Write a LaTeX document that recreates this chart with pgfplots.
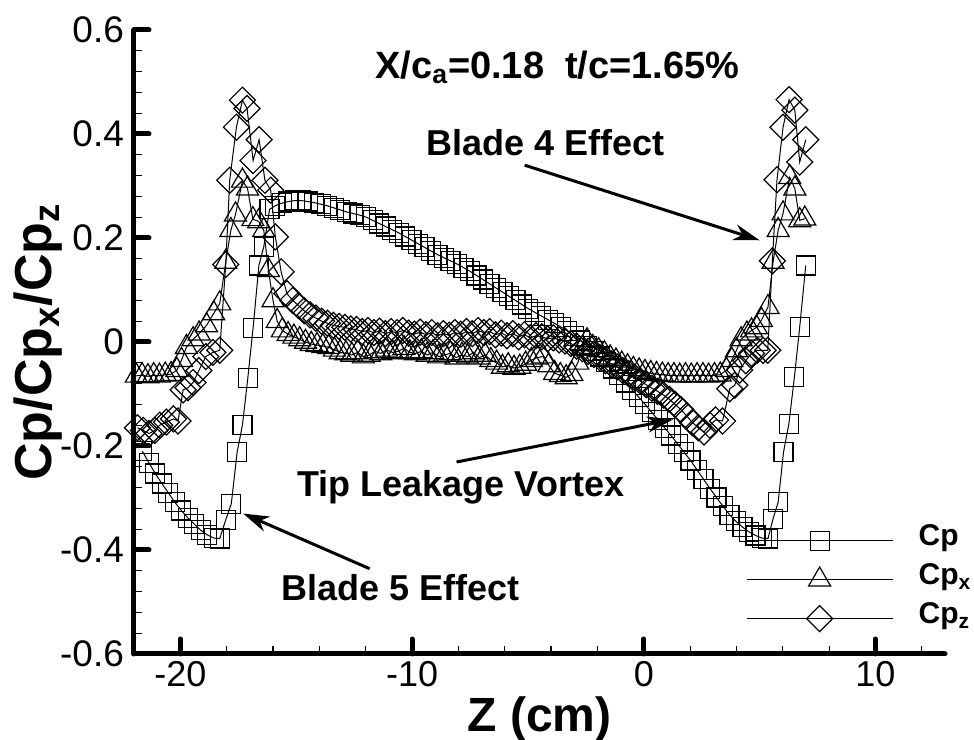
\documentclass[border=0pt]{standalone}
\usepackage{fontspec}
\setmainfont{Liberation Sans}
\usepackage{pgfplots}
\pgfplotsset{compat=1.18}
\usepackage{pgfplotstable}
\usetikzlibrary{arrows.meta}

\pgfplotstableread{
x y
-21.64 -0.210
-21.36 -0.232
-21.08 -0.253
-20.80 -0.272
-20.52 -0.290
-20.24 -0.308
-19.96 -0.324
-19.68 -0.338
-19.40 -0.350
-19.12 -0.362
-18.84 -0.371
-18.56 -0.377
-18.30 -0.378
-18.04 -0.342
-17.80 -0.311
-17.55 -0.212
-17.32 -0.160
-17.09 -0.070
-16.86 0.027
-16.61 0.147
-16.40 0.183
-16.15 0.255
-15.90 0.262
-15.62 0.267
-15.34 0.270
-15.06 0.272
-14.78 0.272
-14.50 0.270
-14.22 0.268
-13.94 0.265
-13.66 0.262
-13.38 0.258
-13.10 0.254
-12.82 0.250
-12.54 0.247
-12.26 0.244
-11.98 0.240
-11.70 0.234
-11.42 0.228
-11.14 0.222
-10.86 0.216
-10.58 0.210
-10.30 0.203
-10.02 0.196
-9.74 0.189
-9.46 0.182
-9.18 0.175
-8.90 0.168
-8.62 0.162
-8.34 0.156
-8.06 0.150
-7.78 0.143
-7.50 0.136
-7.22 0.128
-6.94 0.120
-6.66 0.112
-6.38 0.104
-6.10 0.096
-5.82 0.088
-5.54 0.080
-5.26 0.072
-4.98 0.064
-4.70 0.057
-4.42 0.050
-4.14 0.043
-3.86 0.036
-3.58 0.029
-3.30 0.021
-3.02 0.012
-2.74 0.003
-2.46 -0.007
-2.18 -0.017
-1.90 -0.028
-1.62 -0.039
-1.34 -0.051
-1.06 -0.064
-0.78 -0.078
-0.50 -0.092
-0.22 -0.106
0.06 -0.120
0.34 -0.135
0.62 -0.150
0.90 -0.165
1.18 -0.180
1.46 -0.196
1.74 -0.212
2.02 -0.228
2.30 -0.246
2.58 -0.264
2.86 -0.282
3.14 -0.299
3.42 -0.316
3.70 -0.332
3.98 -0.345
4.26 -0.356
4.54 -0.365
4.82 -0.372
5.10 -0.377
5.36 -0.378
5.58 -0.340
5.80 -0.308
6.03 -0.212
6.26 -0.158
6.50 -0.068
6.73 0.029
6.99 0.147
}\cpdata

\pgfplotstableread{
x y
-21.90 -0.065
-21.65 -0.064
-21.40 -0.066
-21.15 -0.064
-20.90 -0.065
-20.65 -0.063
-20.40 -0.062
-20.15 -0.054
-19.95 -0.035
-19.74 -0.010
-19.45 0.005
-19.19 0.016
-18.87 0.032
-18.56 0.055
-18.30 0.074
-18.04 0.154
-17.82 0.215
-17.62 0.245
-17.32 0.310
-17.10 0.295
-16.87 0.236
-16.62 0.232
-16.40 0.215
-16.20 0.138
-16.00 0.080
-15.82 0.040
-15.60 0.022
-15.35 0.015
-15.10 0.010
-14.85 0.005
-14.60 0.000
-14.35 -0.004
-14.10 -0.006
-13.85 -0.008
-13.60 -0.010
-13.35 -0.015
-13.10 -0.020
-12.85 -0.022
-12.60 -0.025
-12.35 -0.020
-12.10 -0.028
-11.85 -0.025
-11.60 -0.018
-11.35 -0.022
-11.10 -0.015
-10.85 -0.020
-10.60 -0.018
-10.35 -0.012
-10.10 -0.020
-9.85 -0.022
-9.60 -0.018
-9.35 -0.025
-9.10 -0.020
-8.85 -0.028
-8.60 -0.025
-8.35 -0.022
-8.10 -0.030
-7.85 -0.025
-7.60 -0.028
-7.35 -0.020
-7.10 -0.030
-6.85 -0.025
-6.60 -0.035
-6.35 -0.040
-6.10 -0.048
-5.85 -0.045
-5.60 -0.050
-5.35 -0.048
-5.10 -0.042
-4.85 -0.035
-4.60 -0.030
-4.35 -0.028
-4.10 -0.045
-3.85 -0.060
-3.60 -0.064
-3.35 -0.068
-3.10 -0.062
-2.85 -0.040
-2.65 -0.012
-2.45 0.003
-2.20 -0.010
-1.95 -0.016
-1.70 -0.022
-1.45 -0.030
-1.20 -0.036
-0.95 -0.042
-0.70 -0.047
-0.45 -0.052
-0.20 -0.055
0.05 -0.058
0.30 -0.060
0.55 -0.062
0.80 -0.063
1.05 -0.064
1.30 -0.064
1.55 -0.065
1.80 -0.064
2.05 -0.065
2.30 -0.064
2.55 -0.064
2.80 -0.065
3.05 -0.064
3.30 -0.063
3.57 -0.054
3.80 -0.035
4.00 -0.016
4.20 0.005
4.45 0.016
4.65 0.022
4.86 0.028
5.08 0.042
5.36 0.067
5.58 0.154
5.80 0.215
6.01 0.247
6.30 0.317
6.52 0.295
6.73 0.234
6.95 0.237
}\cpxdata

\pgfplotstableread{
x y
-21.85 -0.165
-21.60 -0.170
-21.35 -0.176
-21.10 -0.170
-20.89 -0.160
-20.60 -0.154
-20.30 -0.148
-20.10 -0.152
-19.88 -0.092
-19.67 -0.088
-19.45 -0.078
-19.20 -0.055
-18.90 -0.028
-18.60 -0.020
-18.30 -0.016
-18.04 0.149
-17.87 0.311
-17.58 0.413
-17.32 0.465
-17.12 0.449
-16.86 0.349
-16.60 0.389
-16.35 0.311
-16.10 0.292
-15.90 0.202
-15.65 0.135
-15.40 0.093
-15.15 0.080
-14.90 0.070
-14.65 0.060
-14.40 0.052
-14.15 0.046
-13.90 0.040
-13.65 0.036
-13.40 0.032
-13.15 0.030
-12.90 0.028
-12.65 0.025
-12.40 0.024
-12.15 0.020
-11.90 0.022
-11.65 0.018
-11.40 0.021
-11.15 0.016
-10.90 0.020
-10.65 0.018
-10.40 0.022
-10.15 0.017
-9.90 0.015
-9.65 0.019
-9.40 0.014
-9.15 0.018
-8.90 0.012
-8.65 0.016
-8.40 0.013
-8.15 0.018
-7.90 0.015
-7.65 0.020
-7.40 0.016
-7.15 0.022
-6.90 0.018
-6.65 0.020
-6.40 0.014
-6.15 0.017
-5.90 0.012
-5.65 0.016
-5.40 0.010
-5.15 0.014
-4.90 0.008
-4.65 0.012
-4.40 0.010
-4.15 0.006
-3.90 0.008
-3.65 0.004
-3.40 0.002
-3.15 -0.003
-2.90 -0.008
-2.65 -0.013
-2.40 -0.018
-2.15 -0.024
-1.90 -0.030
-1.65 -0.036
-1.40 -0.042
-1.15 -0.048
-0.90 -0.055
-0.65 -0.061
-0.40 -0.068
-0.15 -0.075
0.10 -0.082
0.35 -0.089
0.60 -0.095
0.85 -0.102
1.10 -0.110
1.35 -0.120
1.60 -0.130
1.85 -0.142
2.10 -0.155
2.35 -0.165
2.60 -0.173
2.85 -0.160
3.10 -0.150
3.40 -0.152
3.71 -0.090
3.93 -0.083
4.14 -0.054
4.40 -0.036
4.65 -0.022
4.90 -0.016
5.15 -0.016
5.35 -0.016
5.55 0.156
5.75 0.312
6.01 0.413
6.27 0.466
6.52 0.446
6.73 0.346
6.99 0.389
}\cpzdata

\begin{document}
\begin{tikzpicture}
\begin{axis}[
  name=ax,
  scale only axis,
  width=405.5pt, height=312pt,
  xmin=-22, xmax=13, ymin=-0.6, ymax=0.6,
  axis x line*=bottom, axis y line*=left,
  axis line style={line width=2.5pt, line cap=round},
  xtick={-20,-10,0,10},
  minor xtick={-18,-16,-14,-12,-8,-6,-4,-2,2,4,6,8,12},
  ytick={-0.6,-0.4,-0.2,0,0.2,0.4,0.6},
  minor ytick={-0.56,-0.52,-0.48,-0.44,-0.36,-0.32,-0.28,-0.24,-0.16,-0.12,-0.08,-0.04,0.04,0.08,0.12,0.16,0.24,0.28,0.32,0.36,0.44,0.48,0.52,0.56},
  tick align=inside,
  major tick length=7.5pt, minor tick length=4pt,
  every major tick/.append style={line width=2.5pt, black, line cap=round},
  every minor tick/.append style={line width=0.6pt, black},
  /pgf/number format/assume math mode=true,
  xticklabel style={font=\fontsize{18}{20}\selectfont},
  yticklabel style={font=\fontsize{18.5}{20}\selectfont, /pgf/number format/fixed, xshift=-1.5pt},
  xlabel={\bfseries Z (cm)},
  ylabel={\bfseries Cp/Cp\textsubscript{x}/Cp\textsubscript{z}},
  every axis x label/.style={at={(axis description cs:0.5,-0.104)}, anchor=center, font=\fontsize{24}{27}\selectfont},
  every axis y label/.style={at={(axis description cs:-0.118,0.5)}, rotate=90, anchor=center, font=\fontsize{26}{30}\selectfont},
  clip mode=individual,
  legend style={draw=none, fill=none, inner xsep=0pt, inner ysep=0pt,
    at={(axis cs:4.40,-0.3813)}, anchor=north west, yshift=9.75pt,
    font=\fontsize{15}{17}\selectfont\bfseries, row sep=0pt, column sep=12.8pt,
    nodes={inner sep=0pt, text height=12.35pt, text depth=7.15pt}},
  legend cell align=left,
  legend image code/.code={\draw[mark repeat=2,mark phase=2,#1] plot coordinates {(0pt,0pt) (36.5pt,0pt) (73pt,0pt)};},
]
\addplot[black, line width=0.5pt, mark=square, mark size=4.75pt, mark options={solid, line width=0.6pt, fill=none}] table[x=x,y=y] {\cpdata};
\addplot[black, line width=0.5pt, mark=triangle, mark size=6.35pt, mark options={solid, line width=0.6pt, fill=none}] table[x=x,y=y] {\cpxdata};
\addplot[black, line width=0.5pt, mark=square, mark size=4.6pt, mark options={solid, rotate=45, line width=0.6pt, fill=none}] table[x=x,y=y] {\cpzdata};
\legend{Cp, Cp\textsubscript{x}, Cp\textsubscript{z}}

\node[anchor=base, font=\fontsize{19}{22}\selectfont\bfseries] at (axis cs:-3.73,0.5065) {X/c\textsubscript{a}=0.18\hspace{0.55em}t/c=1.65\%};
\node[anchor=base, font=\fontsize{18}{21}\selectfont\bfseries] at (axis cs:-4.25,0.359) {Blade 4 Effect};
\node[anchor=base, font=\fontsize{18}{21}\selectfont\bfseries] at (axis cs:-7.89,-0.298) {Tip Leakage Vortex};
\node[anchor=base, font=\fontsize{18}{21}\selectfont\bfseries] at (axis cs:-10.51,-0.498) {Blade 5 Effect};
\draw[line width=1.5pt, -{Stealth[length=13pt, width=8pt, inset=4pt]}] (axis cs:-5.14,0.340) -- (axis cs:5.0,0.1956);
\draw[line width=1.5pt, -{Stealth[length=13pt, width=8pt, inset=4pt]}] (axis cs:-8.08,-0.2308) -- (axis cs:1.265,-0.149);
\draw[line width=1.5pt, -{Stealth[length=13pt, width=8pt, inset=4pt]}] (axis cs:-11.83,-0.436) -- (axis cs:-17.29,-0.330);
\end{axis}
\pgfresetboundingbox
\path ([xshift=-67pt, yshift=-43pt]ax.south west) rectangle ([xshift=14.5pt, yshift=15pt]ax.north east);
\end{tikzpicture}
\end{document}
